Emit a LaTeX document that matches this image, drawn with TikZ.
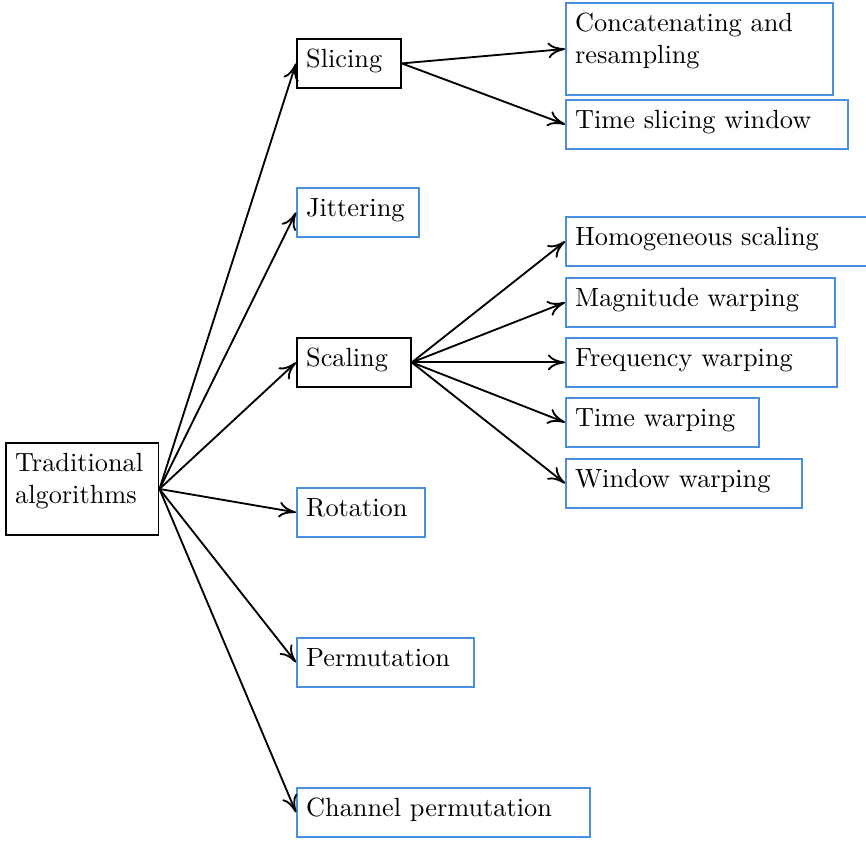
\documentclass[tikz,border=0pt]{standalone}
\usepackage{tikz}
\usetikzlibrary{positioning}
\usetikzlibrary{arrows.meta}
\definecolor{boxblue}{RGB}{74,144,226}
\tikzset{main node/.style={rectangle,draw,anchor=north west,inner sep=3.5pt,align=left,text height=7.5pt,text depth=4.1pt},
  leaf node/.style={main node,draw=boxblue},}

\begin{document}
\begin{tikzpicture}[->,>={Computer Modern Rightarrow[length=6.5pt,width=6pt]},x=0.38pt,y=-0.38pt,line width=0.7pt]
    \useasboundingbox (0,0) rectangle (866,841);
    \node[main node,text width=51pt,text depth=20.5pt] (1) at (5,442) {Traditional\\algorithms};
    \node[main node,text width=32.5pt] (2) at (296,38) {Slicing};
    \node[leaf node,text width=39.4pt] (3) at (296,187) {Jittering};
    \node[main node,text width=36.3pt] (4) at (296,337) {Scaling};
    \node[leaf node,text width=41.6pt] (5) at (296,487) {Rotation};
    \node[leaf node,text width=60.3pt] (6) at (296,637) {Permutation};
    \node[leaf node,text width=104.3pt] (7) at (296,787) {Channel permutation};

    \node[leaf node,text width=94.5pt,text depth=20.5pt] (8) at (565,2) {Concatenating and\\resampling};
    \node[leaf node,text width=100.2pt] (9) at (565,99) {Time slicing window};

    \node[leaf node,text width=107.4pt] (10) at (565,216) {Homogeneous scaling};
    \node[leaf node,text width=95.2pt] (11) at (565,277) {Magnitude warping};
    \node[leaf node,text width=96pt] (12) at (565,337) {Frequency warping};
    \node[leaf node,text width=66.3pt] (13) at (565,397) {Time warping};
    \node[leaf node,text width=82.7pt] (14) at (565,458) {Window warping};

    \path
    (1.east) edge (2.west)
    	edge (3.west)
    	edge (4.west)
    	edge (5.west)
    	edge (6.west)
    	edge (7.west)
    (2.east) edge (8.west)
    	edge (9.west)
    (4.east) edge (10.west)
    	edge (11.west)
    	edge (12.west)
    	edge (13.west)
    	edge (14.west);
\end{tikzpicture}
\end{document}
